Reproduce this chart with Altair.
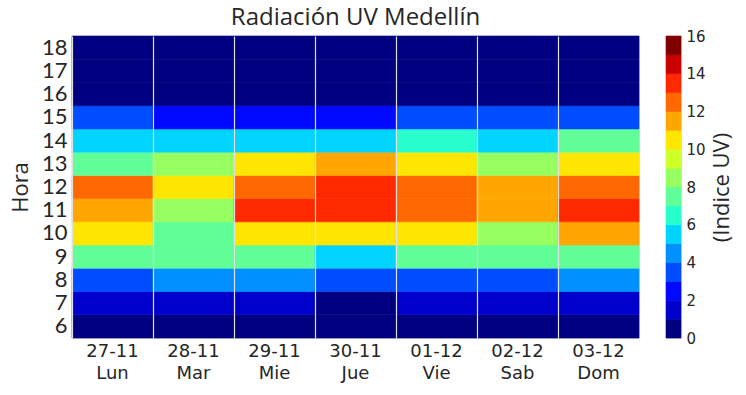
import altair as alt
import pandas as pd

# ---- data ----
days = ["27-11 Lun", "28-11 Mar", "29-11 Mie", "30-11 Jue", "01-12 Vie", "02-12 Sab", "03-12 Dom"]
hours = [6, 7, 8, 9, 10, 11, 12, 13, 14, 15, 16, 17, 18]
# UV index by hour (6..18) for each day
uv_lun = [0.4, 1.6, 3.5, 7.4, 10.3, 11.5, 12.4, 7.6, 5.5, 3.2, 0.5, 0.1, 0.0]
uv_mar = [0.3, 1.5, 4.3, 7.3, 7.6, 8.4, 10.5, 8.3, 5.4, 2.4, 0.5, 0.1, 0.0]
uv_mie = [0.3, 1.4, 4.4, 7.2, 10.2, 13.3, 12.5, 10.4, 5.3, 2.5, 0.6, 0.1, 0.0]
uv_jue = [0.2, 0.8, 3.4, 5.6, 10.4, 13.5, 13.2, 11.3, 5.6, 2.6, 0.5, 0.1, 0.0]
uv_vie = [0.3, 1.5, 3.3, 7.5, 10.6, 12.4, 12.6, 10.2, 6.4, 3.3, 0.7, 0.1, 0.0]
uv_sab = [0.3, 1.4, 3.6, 7.6, 8.5, 11.3, 11.6, 8.4, 5.5, 3.4, 0.6, 0.1, 0.0]
uv_dom = [0.4, 1.6, 4.5, 7.3, 11.2, 13.4, 12.3, 10.5, 7.3, 3.5, 0.6, 0.1, 0.0]
series = [uv_lun, uv_mar, uv_mie, uv_jue, uv_vie, uv_sab, uv_dom]

# colour levels (jet, 16 steps over 0..16)
levels = list(range(16))
thresholds = list(range(1, 16))
jet16 = ["#000080", "#0000cd", "#0008ff", "#004cff", "#0090ff", "#00d4ff",
         "#29ffce", "#60ff97", "#97ff60", "#ceff29", "#ffe600", "#ffa700",
         "#ff6800", "#ff2900", "#cd0000", "#800000"]
cb_ticks = [0, 2, 4, 6, 8, 10, 12, 14, 16]

rows = []
for d, vals in zip(days, series):
    for h, v in zip(hours, vals):
        rows.append({"dia": d, "hora": h, "uv": v})
df = pd.DataFrame(rows)
cb_df = pd.DataFrame({"lo": levels, "hi": [l + 1 for l in levels]})

color_scale = alt.Scale(type="threshold", domain=thresholds, range=jet16)

heat = alt.Chart(df).mark_rect(strokeWidth=0.6).encode(
    x=alt.X("dia:O", sort=days, title=None,
            scale=alt.Scale(paddingInner=0, paddingOuter=0),
            axis=alt.Axis(labelExpr="split(datum.label, ' ')", labelAngle=0,
                          labelFont="DejaVu Sans", labelFontSize=18, labelLineHeight=22.5,
                          labelColor="#262626", labelPadding=4, ticks=False, domain=False,
                          grid=True, bandPosition=0, gridColor="#e0e0e0", gridWidth=1.2,
                          zindex=1)),
    y=alt.Y("hora:O", sort="descending", title="Hora",
            scale=alt.Scale(paddingInner=0, paddingOuter=0),
            axis=alt.Axis(labelFont="Lato", labelFontSize=22, labelColor="#262626",
                          labelPadding=5, ticks=False, domain=False, grid=False,
                          titleFont="Open Sans", titleFontSize=22, titleFontWeight="normal",
                          titleColor="#262626", titlePadding=9)),
    color=alt.Color("uv:Q", scale=color_scale, legend=None),
    stroke=alt.Color("uv:Q", scale=color_scale, legend=None),
).properties(
    width=567, height=302,
    title=alt.TitleParams("Radiación UV Medellín", font="Open Sans", fontSize=24,
                          fontWeight="normal", color="#262626", offset=6, anchor="middle"),
)

cbar = alt.Chart(cb_df).mark_rect(strokeWidth=0.6).encode(
    x=alt.value(0), x2=alt.value(15),
    y=alt.Y("lo:Q", scale=alt.Scale(domain=[0, 16], nice=False),
            axis=alt.Axis(orient="right", values=cb_ticks, title="(Indice UV)",
                          labelFont="DejaVu Sans", labelFontSize=15, labelColor="#262626",
                          labelPadding=5, ticks=False, domain=False, grid=False,
                          titleFont="Open Sans", titleFontSize=22, titleFontWeight="normal",
                          titleColor="#262626", titlePadding=6, titleAngle=270,
                          titleBaseline="top")),
    y2="hi:Q",
    color=alt.Color("lo:Q", scale=color_scale, legend=None),
    stroke=alt.Color("lo:Q", scale=color_scale, legend=None),
).properties(width=15, height=302)

chart = alt.hconcat(heat, cbar, spacing=25).properties(
    padding={"left": 8, "top": 5, "right": 10, "bottom": 0}
).configure_view(stroke="#cccccc", strokeWidth=1).configure(background="white")

chart.save("out.html", embed_options={"renderer": "svg", "actions": False})
